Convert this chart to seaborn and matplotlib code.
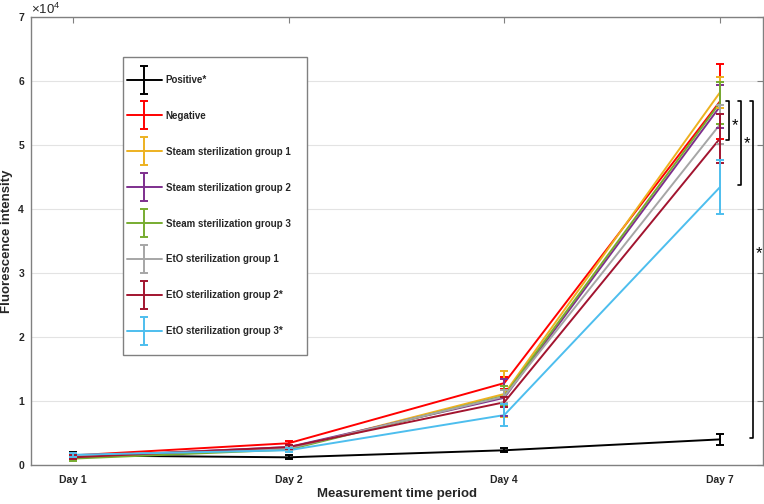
import matplotlib
matplotlib.use("Agg")
import matplotlib.pyplot as plt
from matplotlib.legend_handler import HandlerErrorbar
from matplotlib.patches import Rectangle
import numpy as np
import pandas as pd
import seaborn as sns

# data (values in units of 1e4)
days = ["Day 1", "Day 2", "Day 4", "Day 7"]
groups = ["Positive*", "Negative", "Steam sterilization group 1",
          "Steam sterilization group 2", "Steam sterilization group 3",
          "EtO sterilization group 1", "EtO sterilization group 2*",
          "EtO sterilization group 3*"]
colors = ["#000000", "#FF0000", "#EDB120", "#7E2F8E", "#77AC30",
          "#A6A6A6", "#A2142F", "#4DBEEE"]

positive = [0.15, 0.12, 0.23, 0.40]
negative = [0.15, 0.34, 1.28, 5.68]
steam1 = [0.12, 0.25, 1.11, 5.82]
steam2 = [0.13, 0.28, 1.05, 5.60]
steam3 = [0.10, 0.24, 1.08, 5.66]
eto1 = [0.14, 0.26, 1.07, 5.32]
eto2 = [0.12, 0.28, 0.98, 5.10]
eto3 = [0.16, 0.23, 0.78, 4.34]

positive_err = [0.05, 0.03, 0.03, 0.09]
negative_err = [0.03, 0.03, 0.10, 0.58]
steam1_err = [0.03, 0.03, 0.36, 0.24]
steam2_err = [0.03, 0.03, 0.29, 0.33]
steam3_err = [0.03, 0.03, 0.15, 0.33]
eto1_err = [0.03, 0.03, 0.10, 0.30]
eto2_err = [0.03, 0.03, 0.08, 0.38]
eto3_err = [0.03, 0.03, 0.17, 0.42]

means = [positive, negative, steam1, steam2, steam3, eto1, eto2, eto3]
errs = [positive_err, negative_err, steam1_err, steam2_err, steam3_err,
        eto1_err, eto2_err, eto3_err]

# significance brackets: (top, bottom, x position, star height)
brackets = [(5.68, 5.08, 4.041, 5.39), (5.68, 4.37, 4.097, 5.10),
            (5.68, 0.42, 4.153, 3.38)]

scale = 1e4
xpos = np.arange(1, len(days) + 1)

rows = []
for g, m in zip(groups, means):
    for x, v in zip(xpos, m):
        rows.append({"x": x, "value": v * scale, "group": g})
df = pd.DataFrame(rows)


class CenteredErrorbar(HandlerErrorbar):
    # put the handle line at the text's mid height instead of the box middle
    def create_artists(self, legend, orig_handle, xdescent, ydescent,
                       width, height, fontsize, trans):
        h = ydescent + 2 * 0.36 * fontsize
        return super().create_artists(legend, orig_handle, xdescent,
                                      ydescent, width, h, fontsize, trans)


sns.set_theme(style="white")
plt.rcParams['font.family'] = ['Liberation Sans', 'DejaVu Sans']
plt.rcParams['mathtext.fontset'] = 'custom'
plt.rcParams['mathtext.rm'] = 'Liberation Sans'

fig = plt.figure(figsize=(7.64, 5.04), dpi=100)
ax = fig.add_axes([31 / 764, 39 / 504, 732 / 764, 448 / 504])

sns.lineplot(data=df, x="x", y="value", hue="group", hue_order=groups,
             palette=colors, linewidth=1.4, legend=False, ax=ax,
             errorbar=None, sort=False)

handles = []
for g, m, e, c in zip(groups, means, errs, colors):
    ax.errorbar(xpos, np.array(m) * scale, yerr=np.array(e) * scale,
                fmt="none", ecolor=c, elinewidth=1.4, capsize=3,
                capthick=1.4, zorder=3)
    h = ax.errorbar([np.nan], [np.nan], yerr=[0], color=c, lw=1.4,
                    elinewidth=1.4, capsize=3, capthick=1.4, label=g)
    handles.append(h)

# significance brackets
for top, bot, bx, sy in brackets:
    ax.plot([bx - 0.014, bx, bx, bx - 0.014],
            [top * scale, top * scale, bot * scale, bot * scale],
            color="black", lw=1.2, clip_on=False, zorder=4)
    ax.text(bx + 0.028, (sy - 0.15) * scale, "*", fontsize=12,
            ha="center", va="baseline", color="black")

ax.set_xlim(0.805, 4.2)
ax.set_ylim(0, 7 * scale)
ax.set_xticks(xpos)
ax.set_xticklabels(days)
ax.set_yticks(np.arange(0, 8) * scale)
ax.set_yticklabels([str(i) for i in range(8)])

ax.yaxis.grid(True, color="#E3E3E3", lw=0.8)
ax.xaxis.grid(False)
ax.set_axisbelow(True)
for s in ax.spines.values():
    s.set_color("#808080")
    s.set_linewidth(1.0)
ax.tick_params(direction="in", length=4, width=0.8, color="#808080",
               top=True, right=True, labelsize=7.5, labelcolor="#262626")
ax.tick_params(axis="x", pad=7)
ax.tick_params(axis="y", pad=5)
for lab in ax.get_xticklabels() + ax.get_yticklabels():
    lab.set_fontweight("bold")

ax.set_xlabel("Measurement time period", fontsize=9.5, fontweight="bold",
              color="#262626", labelpad=2.5)
ax.set_ylabel("Fluorescence intensity", fontsize=9.5, fontweight="bold",
              color="#262626", labelpad=4)
ax.text(0.0, 1.007, r"$\times10^{4}$", transform=ax.transAxes,
        fontsize=9.5, color="#262626", ha="left", va="baseline")

# legend frame drawn separately so it can be wider than the entries
ax.add_patch(Rectangle((92 / 732, 110 / 448), 184 / 732, 298 / 448,
                       transform=ax.transAxes, facecolor="white",
                       edgecolor="#808080", lw=1.0, zorder=4.5))
leg_top = (465 - 59) / 448
leg = ax.legend(handles=handles, labels=groups, loc="upper left",
                bbox_to_anchor=(0.1257, leg_top), borderaxespad=0,
                prop={"weight": "bold", "size": 7},
                handlelength=3.6, handleheight=5.3, handletextpad=0.4,
                labelspacing=0.0, borderpad=0.4, frameon=False,
                handler_map={type(handles[0]): CenteredErrorbar(yerr_size=1.44)})
leg.set_zorder(5)

fig.savefig("out.png", dpi=100)
